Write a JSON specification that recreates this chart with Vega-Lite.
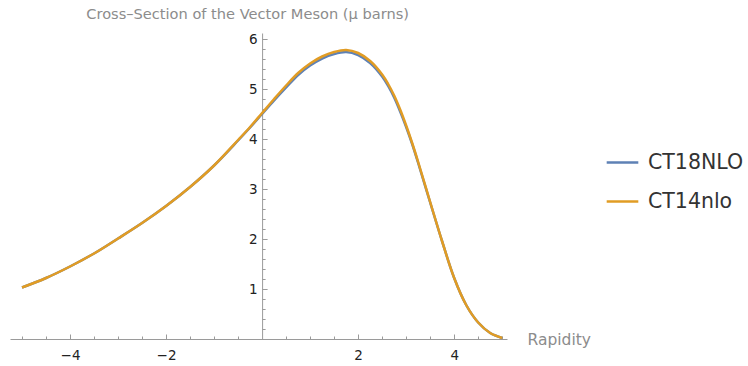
{
  "$schema": "https://vega.github.io/schema/vega-lite/v6.json",
  "width": 497,
  "height": 306,
  "autosize": "none",
  "padding": {"left": 10, "top": 33, "right": 241, "bottom": 27},
  "background": "white",
  "config": {
    "view": {"stroke": null},
    "font": "DejaVu Sans"
  },
  "data": {
    "values": [
      {"r": -5.0, "v": 1.03, "series": "CT18NLO"},
      {"r": -4.5, "v": 1.22, "series": "CT18NLO"},
      {"r": -4.0, "v": 1.45, "series": "CT18NLO"},
      {"r": -3.5, "v": 1.71, "series": "CT18NLO"},
      {"r": -3.0, "v": 2.01, "series": "CT18NLO"},
      {"r": -2.5, "v": 2.32, "series": "CT18NLO"},
      {"r": -2.0, "v": 2.66, "series": "CT18NLO"},
      {"r": -1.5, "v": 3.04, "series": "CT18NLO"},
      {"r": -1.0, "v": 3.47, "series": "CT18NLO"},
      {"r": -0.5, "v": 3.97, "series": "CT18NLO"},
      {"r": -0.25, "v": 4.23, "series": "CT18NLO"},
      {"r": 0.0, "v": 4.50, "series": "CT18NLO"},
      {"r": 0.25, "v": 4.77, "series": "CT18NLO"},
      {"r": 0.5, "v": 5.03, "series": "CT18NLO"},
      {"r": 0.75, "v": 5.28, "series": "CT18NLO"},
      {"r": 1.0, "v": 5.47, "series": "CT18NLO"},
      {"r": 1.25, "v": 5.61, "series": "CT18NLO"},
      {"r": 1.5, "v": 5.70, "series": "CT18NLO"},
      {"r": 1.75, "v": 5.74, "series": "CT18NLO"},
      {"r": 2.0, "v": 5.68, "series": "CT18NLO"},
      {"r": 2.25, "v": 5.52, "series": "CT18NLO"},
      {"r": 2.5, "v": 5.25, "series": "CT18NLO"},
      {"r": 2.625, "v": 5.06, "series": "CT18NLO"},
      {"r": 2.75, "v": 4.83, "series": "CT18NLO"},
      {"r": 2.875, "v": 4.55, "series": "CT18NLO"},
      {"r": 3.0, "v": 4.24, "series": "CT18NLO"},
      {"r": 3.125, "v": 3.90, "series": "CT18NLO"},
      {"r": 3.25, "v": 3.52, "series": "CT18NLO"},
      {"r": 3.5, "v": 2.73, "series": "CT18NLO"},
      {"r": 3.75, "v": 1.95, "series": "CT18NLO"},
      {"r": 4.0, "v": 1.22, "series": "CT18NLO"},
      {"r": 4.25, "v": 0.68, "series": "CT18NLO"},
      {"r": 4.5, "v": 0.33, "series": "CT18NLO"},
      {"r": 4.75, "v": 0.12, "series": "CT18NLO"},
      {"r": 5.0, "v": 0.02, "series": "CT18NLO"},
      {"r": -5.0, "v": 1.03, "series": "CT14nlo"},
      {"r": -4.5, "v": 1.22, "series": "CT14nlo"},
      {"r": -4.0, "v": 1.45, "series": "CT14nlo"},
      {"r": -3.5, "v": 1.71, "series": "CT14nlo"},
      {"r": -3.0, "v": 2.01, "series": "CT14nlo"},
      {"r": -2.5, "v": 2.32, "series": "CT14nlo"},
      {"r": -2.0, "v": 2.66, "series": "CT14nlo"},
      {"r": -1.5, "v": 3.04, "series": "CT14nlo"},
      {"r": -1.0, "v": 3.47, "series": "CT14nlo"},
      {"r": -0.5, "v": 3.98, "series": "CT14nlo"},
      {"r": -0.25, "v": 4.24, "series": "CT14nlo"},
      {"r": 0.0, "v": 4.52, "series": "CT14nlo"},
      {"r": 0.25, "v": 4.80, "series": "CT14nlo"},
      {"r": 0.5, "v": 5.07, "series": "CT14nlo"},
      {"r": 0.75, "v": 5.32, "series": "CT14nlo"},
      {"r": 1.0, "v": 5.51, "series": "CT14nlo"},
      {"r": 1.25, "v": 5.65, "series": "CT14nlo"},
      {"r": 1.5, "v": 5.74, "series": "CT14nlo"},
      {"r": 1.75, "v": 5.78, "series": "CT14nlo"},
      {"r": 2.0, "v": 5.72, "series": "CT14nlo"},
      {"r": 2.25, "v": 5.56, "series": "CT14nlo"},
      {"r": 2.5, "v": 5.29, "series": "CT14nlo"},
      {"r": 2.625, "v": 5.10, "series": "CT14nlo"},
      {"r": 2.75, "v": 4.87, "series": "CT14nlo"},
      {"r": 2.875, "v": 4.59, "series": "CT14nlo"},
      {"r": 3.0, "v": 4.27, "series": "CT14nlo"},
      {"r": 3.125, "v": 3.92, "series": "CT14nlo"},
      {"r": 3.25, "v": 3.54, "series": "CT14nlo"},
      {"r": 3.5, "v": 2.74, "series": "CT14nlo"},
      {"r": 3.75, "v": 1.95, "series": "CT14nlo"},
      {"r": 4.0, "v": 1.22, "series": "CT14nlo"},
      {"r": 4.25, "v": 0.68, "series": "CT14nlo"},
      {"r": 4.5, "v": 0.33, "series": "CT14nlo"},
      {"r": 4.75, "v": 0.12, "series": "CT14nlo"},
      {"r": 5.0, "v": 0.02, "series": "CT14nlo"}
    ]
  },
  "mark": {"type": "line", "interpolate": "catmull-rom", "strokeWidth": 2.5, "clip": false},
  "encoding": {
    "x": {
      "field": "r",
      "type": "quantitative",
      "scale": {"domain": [-5.25, 5.1], "nice": false, "zero": false},
      "axis": {
        "title": "Rapidity",
        "titleColor": "#8c8c8c",
        "titleFont": "DejaVu Sans",
        "titleFontSize": 15.5,
        "titleFontWeight": "normal",
        "titleAngle": 0,
        "titleAlign": "left",
        "titleBaseline": "middle",
        "titleX": 517,
        "titleY": 0,
        "values": [-5, -4.5, -4, -3.5, -3, -2.5, -2, -1.5, -1, -0.5, 0.5, 1, 1.5, 2, 2.5, 3, 3.5, 4, 4.5, 5],
        "labelExpr": "datum.value % 2 === 0 ? format(datum.value, 'd') : ''",
        "labelFontSize": 13.5,
        "labelColor": "#222222",
        "labelPadding": 14,
        "labelFlush": false,
        "labelOverlap": false,
        "domainColor": "#9a9a9a",
        "domainWidth": 1,
        "tickColor": "#9a9a9a",
        "tickWidth": 1,
        "tickSize": {"condition": {"test": "datum.value % 2 === 0", "value": -5}, "value": -3},
        "grid": false
      }
    },
    "y": {
      "field": "v",
      "type": "quantitative",
      "scale": {"domain": [0, 6.12], "nice": false, "zero": true},
      "axis": {
        "title": "Cross–Section of the Vector Meson (μ barns)",
        "titleColor": "#8c8c8c",
        "titleFont": "DejaVu Sans",
        "titleFontSize": 14.6,
        "titleFontWeight": "normal",
        "titleAngle": 0,
        "titleAlign": "center",
        "titleBaseline": "middle",
        "titleX": -15,
        "titleY": -19,
        "offset": -252.1,
        "values": [0.2, 0.4, 0.6, 0.8, 1, 1.2, 1.4, 1.6, 1.8, 2, 2.2, 2.4, 2.6, 2.8, 3, 3.2, 3.4, 3.6, 3.8, 4, 4.2, 4.4, 4.6, 4.8, 5, 5.2, 5.4, 5.6, 5.8, 6],
        "labelExpr": "abs(datum.value - round(datum.value)) < 0.01 ? format(datum.value, 'd') : ''",
        "labelFontSize": 13.5,
        "labelColor": "#222222",
        "labelPadding": 10,
        "labelOverlap": false,
        "domainColor": "#9a9a9a",
        "domainWidth": 1,
        "tickColor": "#9a9a9a",
        "tickWidth": 1,
        "tickSize": {"condition": {"test": "abs(datum.value - round(datum.value)) < 0.01", "value": -5}, "value": -3},
        "grid": false
      }
    },
    "color": {
      "field": "series",
      "type": "nominal",
      "sort": ["CT18NLO", "CT14nlo"],
      "scale": {"domain": ["CT18NLO", "CT14nlo"], "range": ["#5E81B5", "#E19C24"]},
      "legend": {
        "title": null,
        "orient": "none",
        "legendX": 595,
        "legendY": 112,
        "symbolType": "stroke",
        "symbolSize": 1000,
        "symbolStrokeWidth": 2.5,
        "labelFontSize": 20.5,
        "labelFont": "DejaVu Sans",
        "labelColor": "#333333",
        "labelOffset": 8,
        "rowPadding": 11
      }
    },
    "order": {"field": "series", "sort": "descending"}
  }
}
